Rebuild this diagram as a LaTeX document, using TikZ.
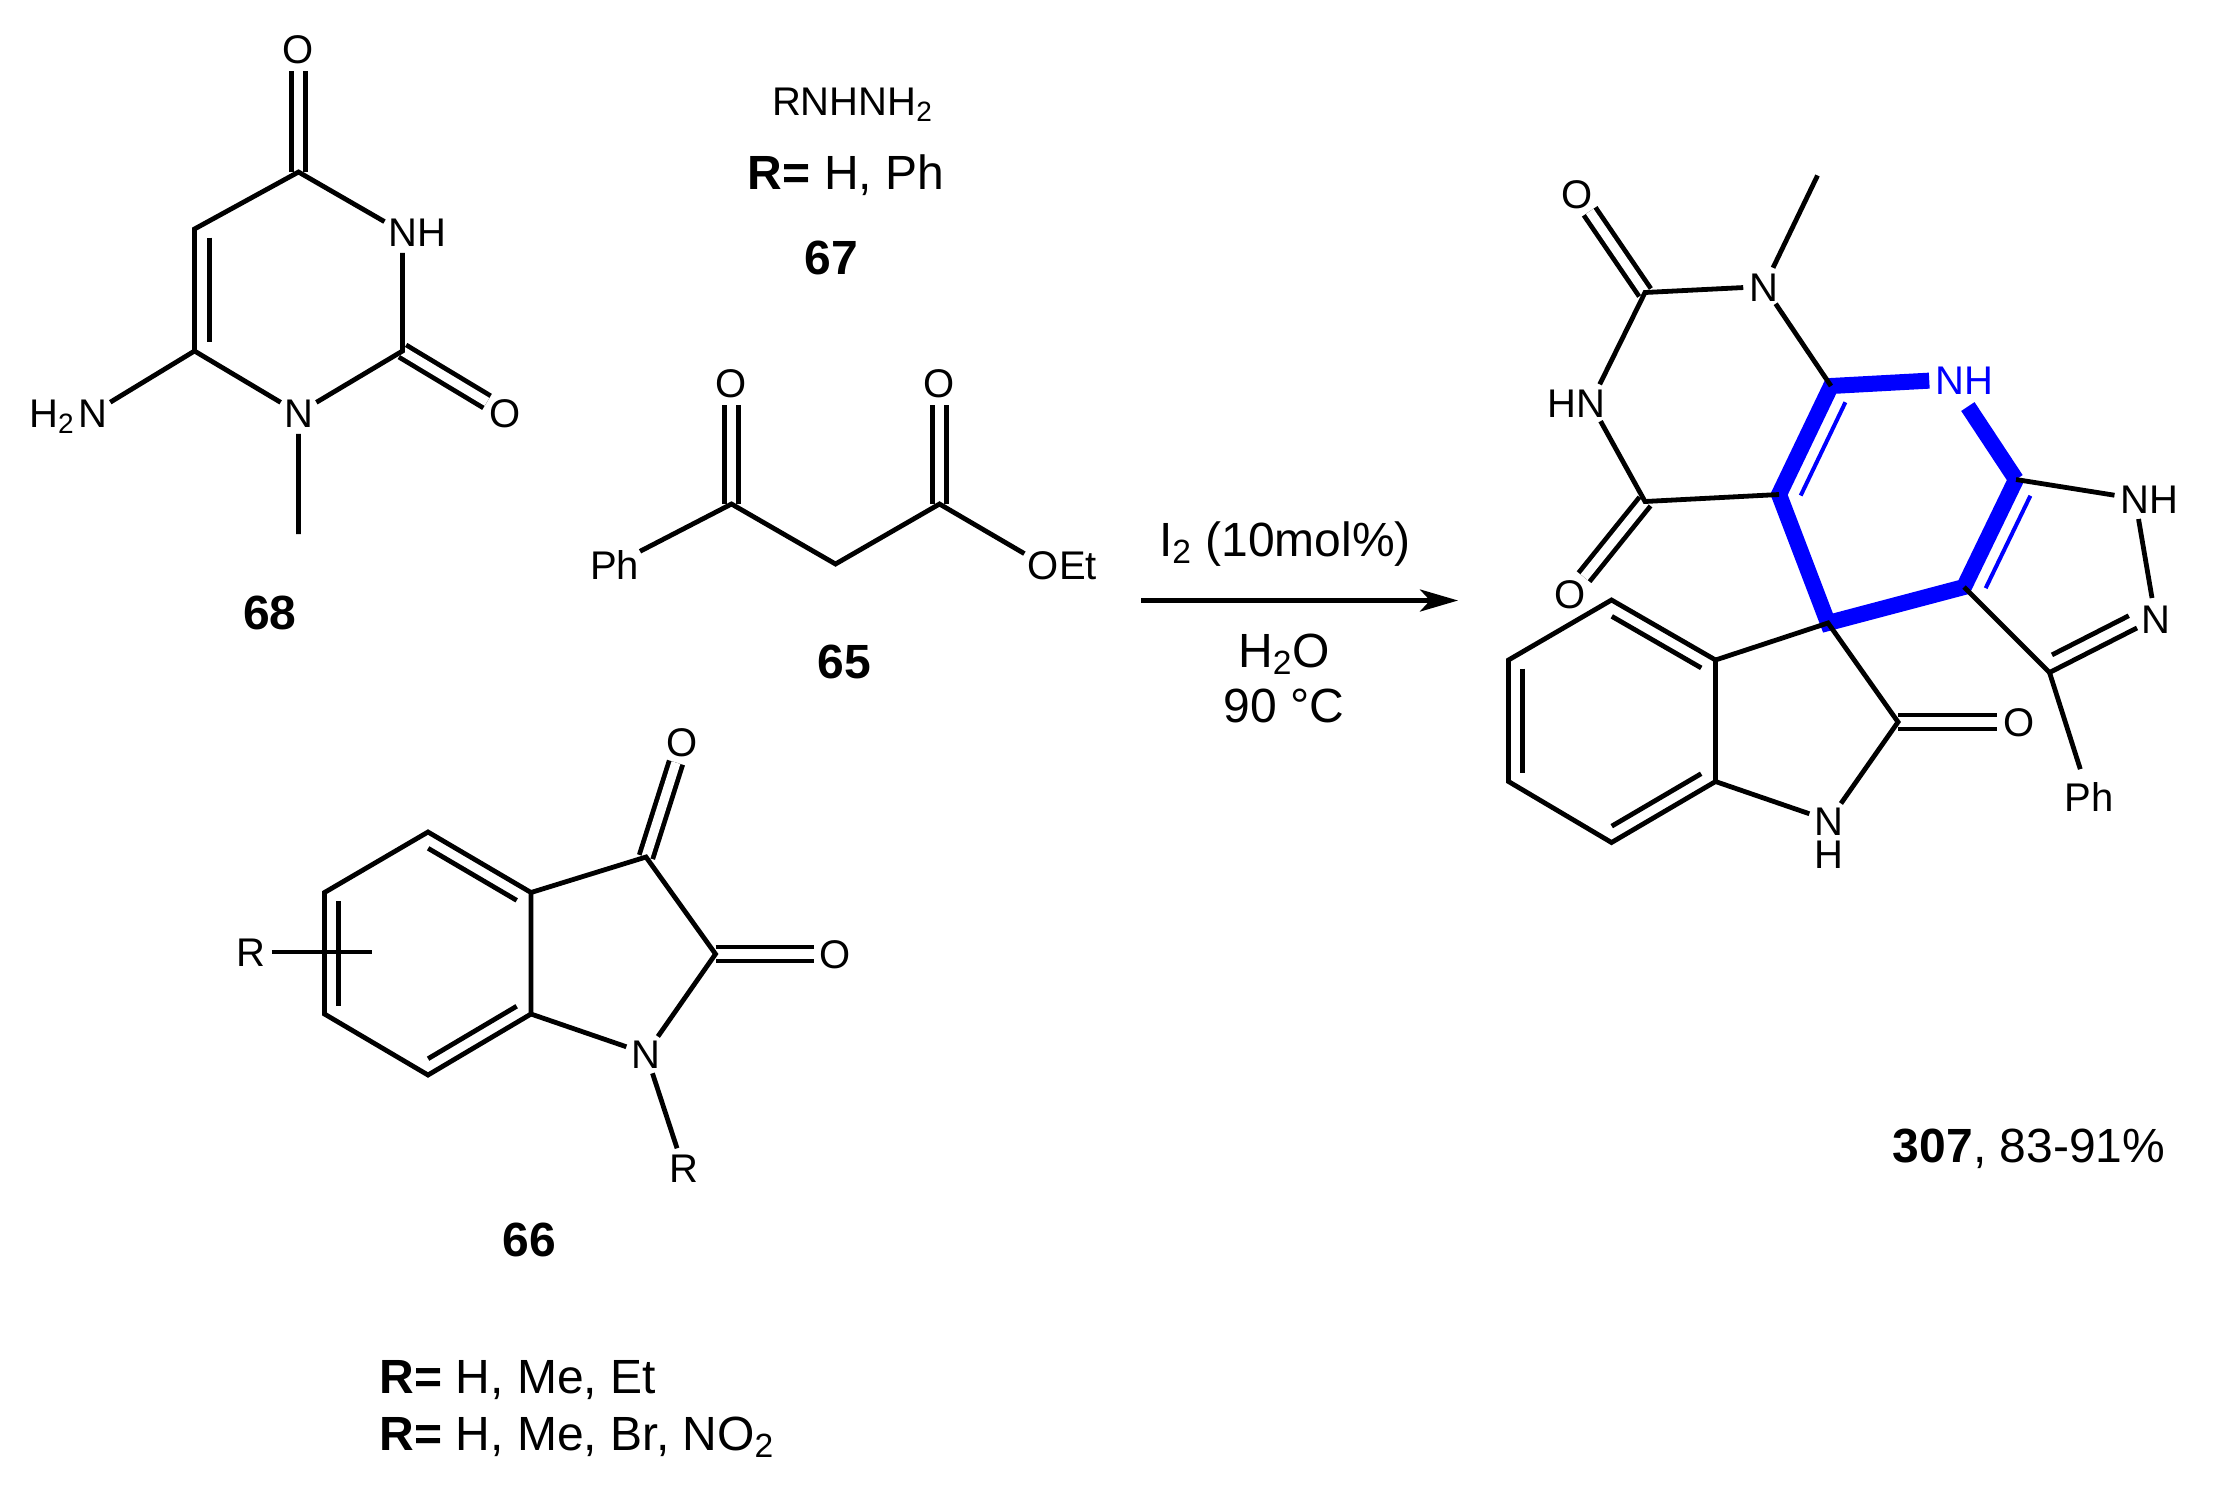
\documentclass[tikz,border=0pt]{standalone}
\usepackage{fontspec}
\setmainfont{Liberation Sans}
\usepackage{tikz}
\usetikzlibrary{calc,arrows.meta}
\definecolor{hlblue}{RGB}{0,0,255}
\tikzset{
  bond/.style={line width=2.4pt},
  dbl/.style={line width=2.4pt,double=white,double distance=4.6pt},
  hlbond/.style={hlblue,line width=8pt},
  atom/.style={circle,inner sep=0pt,text height=14.5pt,text depth=0pt,font=\fontsize{20}{24}\selectfont},
  lbl/.style={inner sep=0pt,text height=17pt,text depth=0pt,font=\fontsize{24}{28}\selectfont},
  cpd/.style={lbl,font=\fontsize{24}{28}\selectfont\bfseries},
}
\newcommand{\innerbond}[4][bond]{\draw[#1] ($(#2)!.07!(#3)!#4!90:(#3)$) -- ($(#3)!.07!(#2)!#4!-90:(#2)$);}
\begin{document}
\begin{tikzpicture}[x=.5pt,y=-.5pt]
\useasboundingbox (0,0) rectangle (2214,1494);

% 68
\coordinate (a4) at (298.5,172);
\coordinate (a2) at (402.5,351);
\coordinate (a5) at (194.5,229);
\coordinate (a6) at (194.5,351);
\coordinate (ame) at (298.5,534);
\node[atom] (ao4) at (298.5,49) {O};
\node[atom] (ao2) at (505.5,413) {O};
\node[atom] (an3) at (402.5,232) {N};
\node[atom] (ah3) at (431.5,232) {H};
\node[atom] (an1) at (298.5,413) {N};
\node[atom] (an6) at (92.5,413) {N};
\node[atom] (ah6) at (52,413) {H\textsubscript{2}};
\draw[dbl] (a4) -- (ao4);
\draw[dbl] (a2) -- (ao2);
\draw[bond] (an3) -- (a4) -- (a5) -- (a6) -- (an1);
\draw[bond] (an3) -- (a2) -- (an1) -- (ame);
\draw[bond] (a6) -- (an6);
\innerbond{a5}{a6}{7.3pt}
\node[cpd] (l68) at (270,612) {68};

% 67
\node[lbl,text height=14.5pt,font=\fontsize{20}{24}\selectfont] (rn) at (852.5,101) {RNHNH\textsubscript{2}};
\node[lbl] (r67) at (846,172) {\textbf{R=} H, Ph};
\node[cpd] (l67) at (831,257) {67};

% 65
\coordinate (b1) at (731.5,504);
\coordinate (b2) at (835.5,564);
\coordinate (b3) at (939.5,504);
\node[atom] (bo1) at (731.5,383) {O};
\node[atom] (bo3) at (939.5,383) {O};
\node[atom] (bph) at (614.5,564.5) {Ph};
\node[atom] (bo) at (1043,564.5) {O};
\node[atom] (bet) at (1078,564.5) {Et};
\draw[dbl] (b1) -- (bo1);
\draw[dbl] (b3) -- (bo3);
\draw[bond] (bph) -- (b1) -- (b2) -- (b3) -- (bo);
\node[cpd] (l65) at (844.5,661) {65};

% 66
\coordinate (c1) at (428,832);
\coordinate (c2) at (531,892.5);
\coordinate (c3) at (531,1014);
\coordinate (c4) at (428,1075);
\coordinate (c5) at (324.5,1014);
\coordinate (c6) at (324.5,892.5);
\coordinate (c7) at (646,857);
\coordinate (c8) at (715.5,954);
\coordinate (cend) at (371.5,952);
\node[atom] (co1) at (682.5,742) {O};
\node[atom] (co2) at (835.5,954) {O};
\node[atom] (cn) at (646,1053.5) {N};
\node[atom] (cr1) at (683.5,1168) {R};
\node[atom] (cr2) at (251,952) {R};
\draw[dbl] (c7) -- (co1);
\draw[dbl] (c8) -- (co2);
\draw[bond] (c1) -- (c2) -- (c3) -- (c4) -- (c5) -- (c6) -- cycle;
\draw[bond] (c2) -- (c7) -- (c8) -- (cn) -- (c3);
\draw[bond] (cn) -- (cr1);
\draw[bond] (cr2) -- (cend);
\innerbond{c2}{c1}{7pt}
\innerbond{c6}{c5}{7pt}
\innerbond{c4}{c3}{7pt}
\node[cpd] (l66) at (529,1239) {66};
\node[lbl,anchor=west] (r66a) at (379.5,1376) {\textbf{R=} H, Me, Et};
\node[lbl,anchor=west] (r66b) at (379.5,1433) {\textbf{R=} H, Me, Br, NO\textsubscript{2}};

% arrow
\coordinate (arra) at (1141,600.5);
\coordinate (arrb) at (1458,600.5);
\draw[line width=2.4pt,-{Stealth[length=19pt,width=11pt,inset=5pt]}] (arra) -- (arrb);
\node[lbl] (cond1) at (1285,539.5) {I\textsubscript{2} (10mol\%)};
\node[lbl] (cond2) at (1284,650) {H\textsubscript{2}O};
\node[lbl] (cond3) at (1284,705) {90 °C};

% 307
\coordinate (pme) at (1817.5,175.5);
\coordinate (p2) at (1645,292.5);
\coordinate (p4) at (1645,501.5);
\coordinate (p4a) at (1779,494.5);
\coordinate (p8a) at (1831,386);
\coordinate (p6) at (2016,479.5);
\coordinate (p5) at (1964,587);
\coordinate (ps) at (1828,623);
\coordinate (p3) at (2049.5,672.5);
\coordinate (pc) at (1898,722);
\coordinate (pb1) at (1715.5,660);
\coordinate (pb2) at (1611.5,600);
\coordinate (pb3) at (1508.5,660);
\coordinate (pb4) at (1508.5,781.5);
\coordinate (pb5) at (1611.5,842.5);
\coordinate (pb6) at (1715.5,781.5);
\node[atom] (pn1) at (1764,286.5) {N};
\node[atom] (po2) at (1577.5,193.5) {O};
\node[atom] (pn3) at (1590.5,403) {N};
\node[atom] (ph3) at (1561.5,403) {H};
\node[atom] (po4) at (1570.5,594) {O};
\node[atom,hlblue] (pnh) at (1950,379.5) {N};
\node[atom,hlblue] (phh) at (1979,379.5) {H};
\node[atom] (pn7) at (2135,498.5) {N};
\node[atom] (ph7) at (2164,498.5) {H};
\node[atom] (pn8) at (2155.5,618.5) {N};
\node[atom] (pph) at (2089,796.5) {Ph};
\node[atom] (poc) at (2019,722) {O};
\node[atom] (pnn) at (1829,820.5) {N};
\node[atom] (phn) at (1829,854) {H};
\draw[dbl] (p2) -- (po2);
\draw[dbl] (p4) -- (po4);
\draw[dbl] (pc) -- (poc);
\draw[hlbond] (pnh) -- (p8a) -- (p4a) -- (ps) -- (p5) -- (p6);
\draw[hlbond,shorten >=5.8pt] (p6) -- (pnh);
\innerbond[bond,line width=2pt,hlblue]{p8a}{p4a}{10pt}
\innerbond[bond,line width=2pt,hlblue]{p6}{p5}{10pt}
\draw[bond] (pme) -- (pn1) -- (p2) -- (pn3) -- (p4) -- (p4a);
\draw[bond] (pn1) -- (p8a);
\draw[bond] (p6) -- (pn7) -- (pn8);
\draw[bond] (p5) -- (p3) -- (pn8);
\draw[bond] ($(p3)!.086!(pn8)!7.3pt!90:(pn8)$) -- ($(pn8)!.19!(p3)!7.3pt!-90:(p3)$);
\draw[bond] (p3) -- (pph);
\draw[bond] (pb1) -- (pb2) -- (pb3) -- (pb4) -- (pb5) -- (pb6) -- cycle;
\draw[bond] (pb1) -- (ps) -- (pc) -- (pnn) -- (pb6);
\innerbond{pb1}{pb2}{7pt}
\innerbond{pb3}{pb4}{7pt}
\innerbond{pb5}{pb6}{7pt}
\node[lbl] (l307) at (2029,1145) {\textbf{307}, 83-91\%};
\end{tikzpicture}
\end{document}
